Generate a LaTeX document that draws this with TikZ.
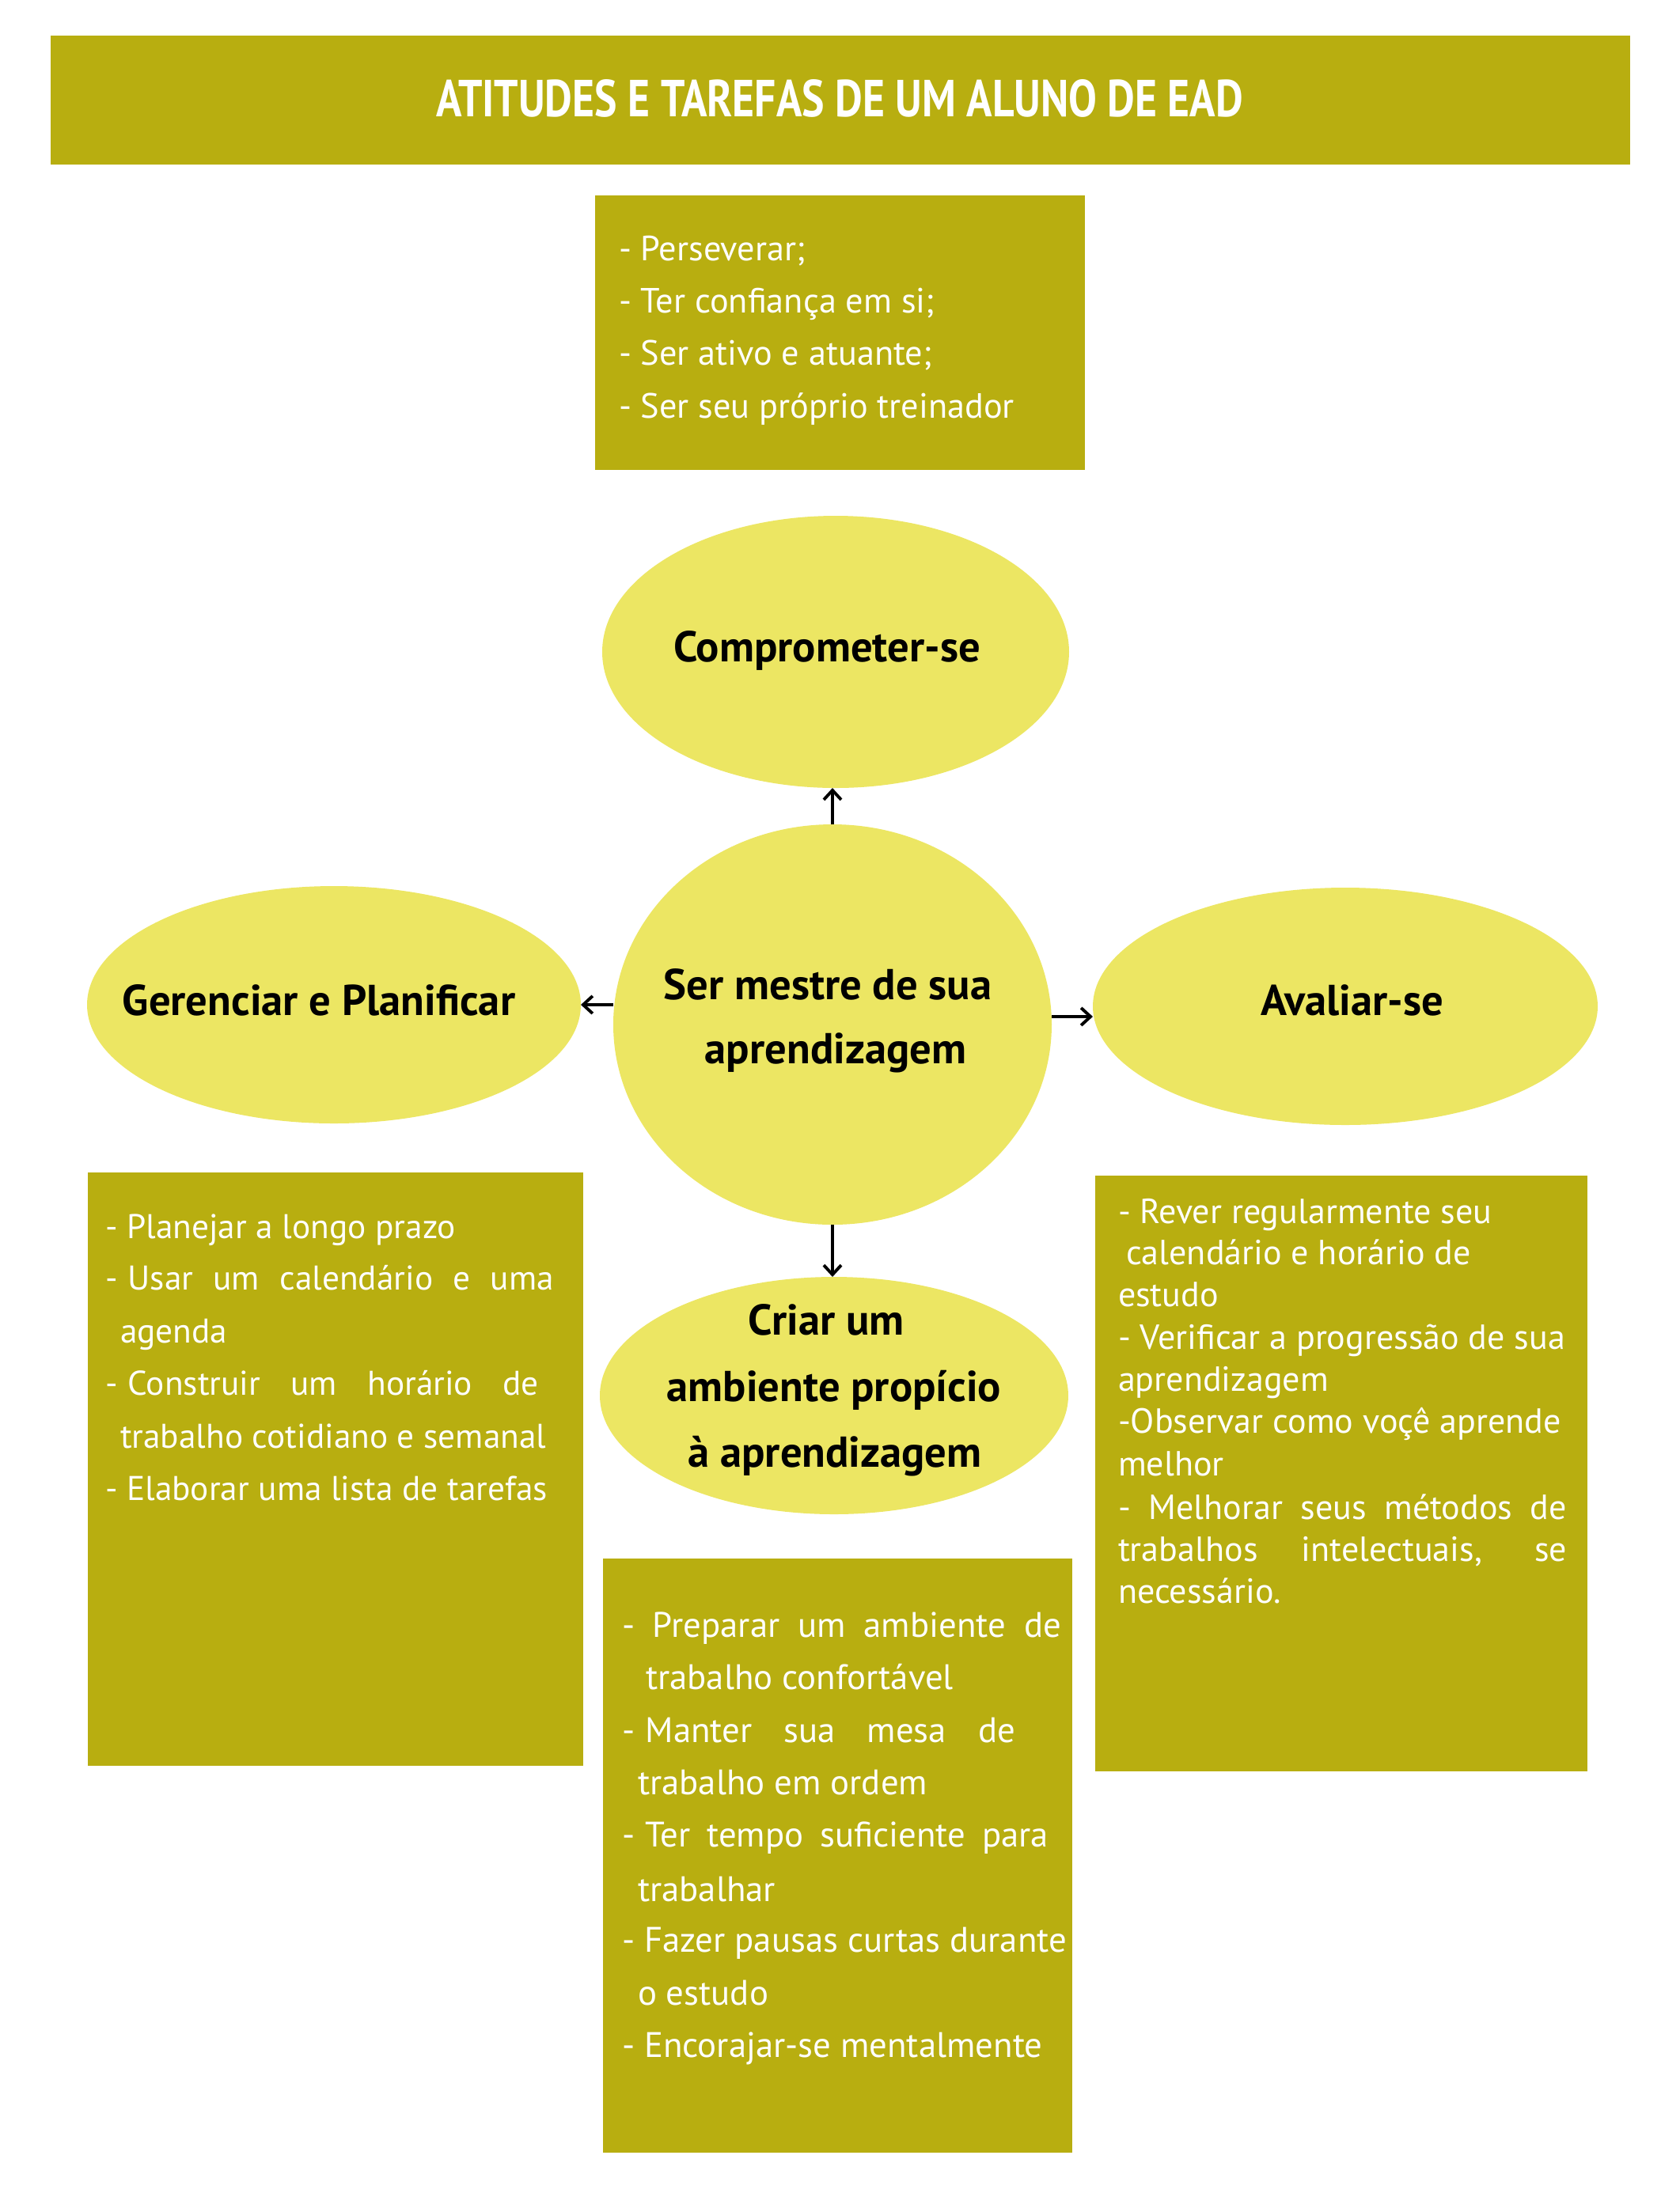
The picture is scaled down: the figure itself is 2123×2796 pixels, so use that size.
\documentclass[tikz,border=0pt]{standalone}
\usepackage{fontspec}
\setmainfont{PT Sans}
\usetikzlibrary{shapes.geometric,arrows.meta,calc}
\definecolor{boxc}{HTML}{B8AE10}
\definecolor{ellc}{HTML}{ECE663}
\newlength\reflen
\newcommand\fitsz[3]{\settowidth\reflen{\fontsize{10pt}{12pt}\selectfont #3}\pgfmathsetmacro#1{10*#2*2.845274/\reflen}}
\newcommand\dsh{-\kern0.3em}
\begin{document}
\fitsz\szT{50.0}{- Ser seu próprio treinador}%
\fitsz\szL{55.9}{- Elaborar uma lista de tarefas}%
\fitsz\szR{56.5}{- Verificar a progressão de sua}%
\fitsz\szB{56.2}{- Fazer pausas curtas durante}%
\fitsz\szE{91.1}{\bfseries Ser mestre de suaGerenciar e Planificar}%
\begin{tikzpicture}[x=0.1mm,y=-0.1mm,
  darkbox/.style={rectangle,fill=boxc,draw=none,anchor=north west,inner sep=0,outer sep=0},
  bubble/.style={ellipse,fill=ellc,draw=none,inner sep=0,outer sep=0},
  txt/.style={anchor=base west,inner sep=0,outer sep=0,text=white},
  fT/.style={txt,font=\fontsize{\szT pt}{\szT pt}\selectfont},
  fL/.style={txt,font=\fontsize{\szL pt}{\szL pt}\selectfont},
  fR/.style={txt,font=\fontsize{\szR pt}{\szR pt}\selectfont},
  fB/.style={txt,font=\fontsize{\szB pt}{\szB pt}\selectfont},
  fE/.style={anchor=base,inner sep=0,outer sep=0,text=black,font=\fontsize{\szE pt}{\szE pt}\selectfont\bfseries},
  arr/.style={-{Straight Barb[length=1.2mm,width=2.2mm,line width=1.1pt]},line width=1.1pt,black}]
\useasboundingbox (0,0) rectangle (2123,2796);

% title
\node[darkbox,minimum width=199.6mm,minimum height=16.3mm] (title) at (64,45) {};
\node[anchor=base,inner sep=0,text=white] (titletext) at (1061,147)
  {\resizebox{102mm}{4.7mm}{\bfseries ATITUDES E TAREFAS DE UM ALUNO DE EAD}};

% top box
\node[darkbox,minimum width=61.9mm,minimum height=34.7mm] (topbox) at (752,247) {};
\node[fT] (t1) at (782,329) {- Perseverar;};
\node[fT] (t2) at (782,395) {- Ter confiança em si;};
\node[fT] (t3) at (782,461) {- Ser ativo e atuante;};
\node[fT] (t4) at (782,528) {- Ser seu próprio treinador};

% ellipses
\node[bubble,minimum width=59.0mm,minimum height=34.4mm] (comp) at (1056,824) {};
\node[fE] (compt) at (1045,836) {Comprometer-se};
\node[bubble,minimum width=55.4mm,minimum height=50.6mm] (mestre) at (1052,1295) {};
\node[fE] (mestre1) at (1046,1263) {Ser mestre de sua};
\node[fE] (mestre2) at (1056,1344) {aprendizagem};
\node[bubble,minimum width=62.4mm,minimum height=30.0mm] (ger) at (422,1270) {};
\node[fE] (gert) at (403,1283) {Gerenciar e Planificar};
\node[bubble,minimum width=63.8mm,minimum height=30.0mm] (aval) at (1700,1272) {};
\node[fE] (avalt) at (1709,1283) {Avaliar-se};
\node[bubble,minimum width=59.2mm,minimum height=30.0mm] (criar) at (1054,1764) {};
\node[fE] (criar1) at (1044,1687) {Criar um};
\node[fE] (criar2) at (1054,1771) {ambiente propício};
\node[fE] (criar3) at (1055,1854) {à aprendizagem};

% arrows
\draw[arr] (mestre.north) -- (mestre.north |- comp.south);
\draw[arr] (mestre.west |- ger.east) -- (ger.east);
\draw[arr] ([yshift=1mm]mestre.east) -- ([yshift=1mm]mestre.east -| aval.west);
\draw[arr] (mestre.south) -- (mestre.south |- criar.north);

% left box
\node[darkbox,minimum width=62.6mm,minimum height=75.0mm] (leftbox) at (111,1482) {};
\node[fL] (l1) at (133,1565) {- Planejar a longo prazo};
\node[fL] (l2) at (133,1630) {\makebox[56.7mm][s]{\dsh Usar um calendário e uma}};
\node[fL] (l3) at (152,1697) {agenda};
\node[fL] (l4) at (133,1763) {\makebox[54.8mm][s]{\dsh Construir um horário de}};
\node[fL] (l5) at (152,1830) {trabalho cotidiano e semanal};
\node[fL] (l6) at (133,1896) {- Elaborar uma lista de tarefas};

% right box
\node[darkbox,minimum width=62.2mm,minimum height=75.3mm] (rightbox) at (1384,1486) {};
\node[fR] (r1) at (1413,1546) {- Rever regularmente seu};
\node[fR] (r2) at (1423,1598) {calendário e horário de};
\node[fR] (r3) at (1413,1651) {estudo};
\node[fR] (r4) at (1413,1705) {- Verificar a progressão de sua};
\node[fR] (r5) at (1413,1758) {aprendizagem};
\node[fR] (r6) at (1413,1811) {-Observar como voçê aprende};
\node[fR] (r7) at (1413,1865) {melhor};
\node[fR] (r8) at (1413,1920) {\makebox[56.7mm][s]{- Melhorar seus métodos de}};
\node[fR] (r9) at (1413,1973) {\makebox[56.7mm][s]{trabalhos intelectuais, se}};
\node[fR] (r10) at (1413,2026) {necessário.};

% bottom box
\node[darkbox,minimum width=59.3mm,minimum height=75.1mm] (botbox) at (762,1970) {};
\node[fB] (b1) at (786,2069) {\makebox[55.5mm][s]{- Preparar um ambiente de}};
\node[fB] (b2) at (816,2135) {trabalho confortável};
\node[fB] (b3) at (786,2202) {\makebox[49.7mm][s]{\dsh Manter sua mesa de}};
\node[fB] (b4) at (806,2268) {trabalho em ordem};
\node[fB] (b5) at (786,2334) {\makebox[53.9mm][s]{\dsh Ter tempo suficiente para}};
\node[fB] (b6) at (806,2403) {trabalhar};
\node[fB] (b7) at (786,2467) {- Fazer pausas curtas durante};
\node[fB] (b8) at (806,2534) {o estudo};
\node[fB] (b9) at (786,2600) {- Encorajar-se mentalmente};
\end{tikzpicture}
\end{document}
